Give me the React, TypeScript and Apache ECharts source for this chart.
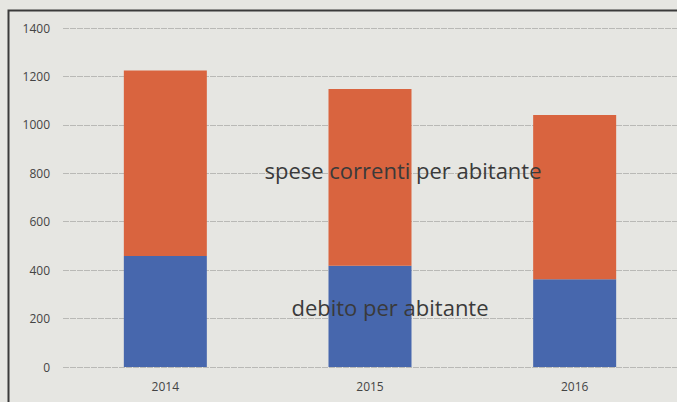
import React, { useEffect, useRef } from "react";
import * as echarts from "echarts";

const categories = ["2014", "2015", "2016"];
const debitoPerAbitante = [458, 418, 362];
const speseCorrentiPerAbitante = [767, 730, 679];
const yTicks = [0, 200, 400, 600, 800, 1000, 1200, 1400];

export default function App() {
  const ref = useRef<HTMLDivElement>(null);
  useEffect(() => {
    if (!ref.current) return;
    const chart = echarts.init(ref.current, null, { renderer: "svg" });
    chart.setOption({
      animation: false,
      backgroundColor: "#e6e6e2",
      grid: { left: 63, top: 28, width: 620, height: 339 },
      xAxis: {
        type: "category",
        data: categories,
        axisLine: { show: false },
        axisTick: { show: false },
        axisLabel: { color: "#444", fontSize: 12, fontFamily: "Open Sans", margin: 13 },
      },
      yAxis: {
        type: "value",
        min: yTicks[0],
        max: yTicks[yTicks.length - 1],
        interval: 200,
        axisLine: { show: false },
        axisTick: { show: false },
        axisLabel: {
          color: "#444",
          fontSize: 12,
          fontFamily: "Open Sans",
          margin: 13,
          formatter: (v: number) => String(v),
        },
        splitLine: { lineStyle: { color: "#b9b9b6", width: 1, type: [6, 1] } },
      },
      series: [
        {
          name: "debito per abitante",
          type: "bar",
          stack: "tot",
          data: debitoPerAbitante,
          barWidth: 83,
          itemStyle: { color: "#4767ad" },
        },
        {
          name: "spese correnti per abitante",
          type: "bar",
          stack: "tot",
          data: speseCorrentiPerAbitante,
          barWidth: 83,
          itemStyle: { color: "#d9643f" },
        },
      ],
      graphic: [
        {
          type: "rect",
          shape: { x: 8.5, y: 10.5, width: 700, height: 420 },
          style: { fill: "none", stroke: "#3a3a3a", lineWidth: 2 },
          silent: true,
          z: 100,
        },
        {
          type: "text",
          x: 403,
          y: 170,
          z: 100,
          style: {
            text: "spese correnti per abitante",
            fill: "#3a3a3a",
            font: "22px 'Open Sans'",
            textAlign: "center",
            textVerticalAlign: "middle",
          },
        },
        {
          type: "text",
          x: 390,
          y: 307,
          z: 100,
          style: {
            text: "debito per abitante",
            fill: "#3a3a3a",
            font: "22px 'Open Sans'",
            textAlign: "center",
            textVerticalAlign: "middle",
          },
        },
      ],
    });
    return () => chart.dispose();
  }, []);
  return (
    <div
      ref={ref}
      style={{ position: "fixed", left: 0, top: 0, width: 677, height: 402 }}
    />
  );
}
